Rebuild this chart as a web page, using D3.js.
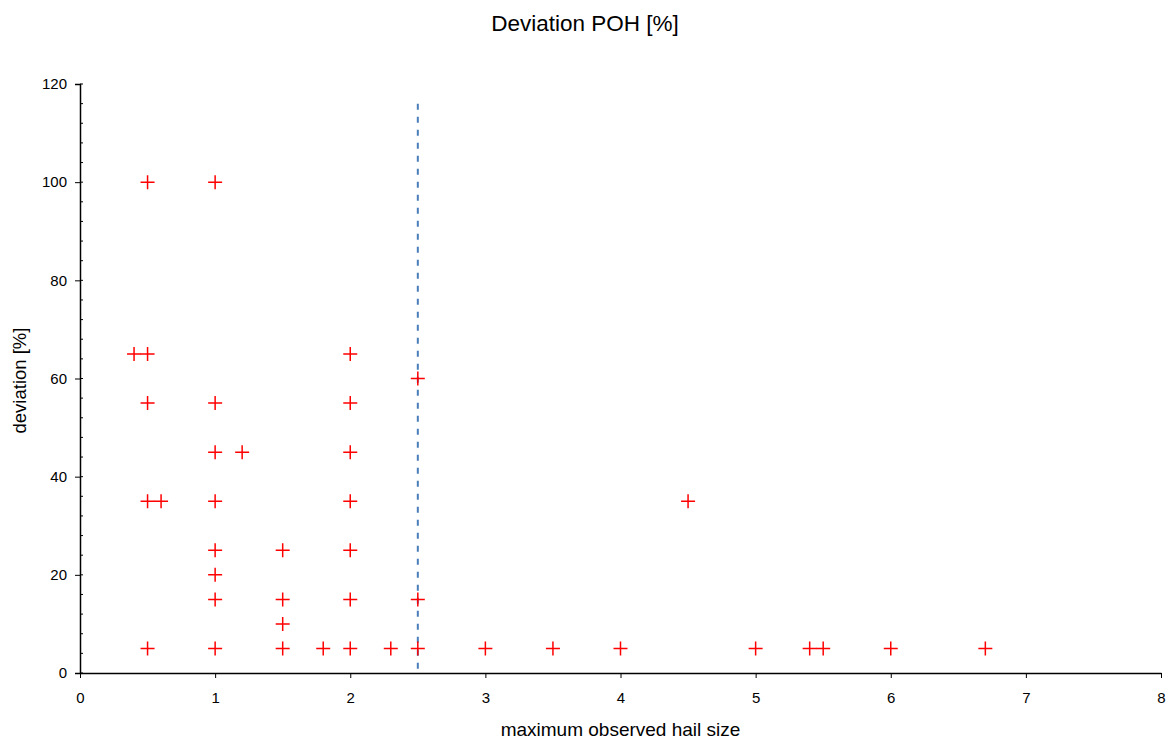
<!DOCTYPE html>
<html>
<head>
<meta charset="utf-8">
<script src="https://cdn.jsdelivr.net/npm/d3@7"></script>
<style>
  body { margin: 0; background: #fff; }
  text { font-family: "Liberation Sans", Arial, sans-serif; }
</style>
</head>
<body>
<div id="chart"></div>
<script>
// hail size vs deviation
const hailSize = [0.5, 1, 0.4, 0.5, 2, 2.5, 0.5, 1, 2, 1, 1.2, 2, 0.5, 0.6, 1, 2, 4.5,
  1, 1.5, 2, 1, 1, 1.5, 2, 2.5, 1.5,
  0.5, 1, 1.5, 1.8, 2, 2.3, 2.5, 3, 3.5, 4, 5, 5.4, 5.5, 6, 6.7];
const deviation = [100, 100, 65, 65, 65, 60, 55, 55, 55, 45, 45, 45, 35, 35, 35, 35, 35,
  25, 25, 25, 20, 15, 15, 15, 15, 10,
  5, 5, 5, 5, 5, 5, 5, 5, 5, 5, 5, 5, 5, 5, 5];
const xTicks = [0, 1, 2, 3, 4, 5, 6, 7, 8];
const yTicks = [0, 20, 40, 60, 80, 100, 120];
const threshold = 2.5;
const thresholdTop = 116;

const width = 1168, height = 740;
const margin = { top: 84, right: 7, bottom: 67, left: 80 };

const svg = d3.select("#chart").append("svg")
  .attr("width", width)
  .attr("height", height);

const x = d3.scaleLinear().domain([0, 8]).range([margin.left, width - margin.right]);
const y = d3.scaleLinear().domain([0, 120]).range([height - margin.bottom, margin.top]);

// title
svg.append("text")
  .attr("x", 585).attr("y", 31)
  .attr("text-anchor", "middle")
  .attr("font-size", 22.5)
  .text("Deviation POH [%]");

// minor y ticks (inside)
svg.append("g")
  .selectAll("line")
  .data(d3.range(0, 121, 4))
  .join("line")
  .attr("x1", x(0)).attr("x2", x(0) + 3)
  .attr("y1", d => y(d)).attr("y2", d => y(d))
  .attr("stroke", "#000").attr("stroke-width", 1);

// y axis
const yAxis = svg.append("g")
  .attr("transform", `translate(${x(0)},0)`)
  .call(d3.axisLeft(y).tickValues(yTicks).tickSize(5).tickPadding(8));
yAxis.select(".domain").attr("stroke-width", 1.5);
yAxis.selectAll(".tick text").attr("font-size", 15).attr("font-family", "Liberation Sans, Arial, sans-serif");

// x axis
const xAxis = svg.append("g")
  .attr("transform", `translate(0,${y(0)})`)
  .call(d3.axisBottom(x).tickValues(xTicks).tickSize(5).tickPadding(14).tickSizeOuter(0));
xAxis.select(".domain").attr("stroke-width", 1.5);
xAxis.selectAll(".tick text").attr("font-size", 15).attr("font-family", "Liberation Sans, Arial, sans-serif");

// axis labels
svg.append("text")
  .attr("x", (x(0) + x(8)) / 2).attr("y", 736)
  .attr("text-anchor", "middle")
  .attr("font-size", 19)
  .text("maximum observed hail size");

svg.append("text")
  .attr("transform", `translate(26,${(y(0) + y(120)) / 2 + 2}) rotate(-90)`)
  .attr("text-anchor", "middle")
  .attr("font-size", 18.5)
  .text("deviation [%]");

// threshold line
svg.append("line")
  .attr("x1", x(threshold)).attr("x2", x(threshold))
  .attr("y1", y(thresholdTop)).attr("y2", y(0))
  .attr("stroke", "#4a7ebb")
  .attr("stroke-width", 2)
  .attr("stroke-dasharray", "6,7");

// points as "+"
const pts = hailSize.map((h, i) => ({ h, d: deviation[i] }));
const s = 7;
svg.append("g")
  .selectAll("path")
  .data(pts)
  .join("path")
  .attr("d", p => `M${x(p.h) - s},${y(p.d)}H${x(p.h) + s}M${x(p.h)},${y(p.d) - s}V${y(p.d) + s}`)
  .attr("stroke", "#ff0000")
  .attr("stroke-width", 1.5)
  .attr("fill", "none");
</script>
</body>
</html>
